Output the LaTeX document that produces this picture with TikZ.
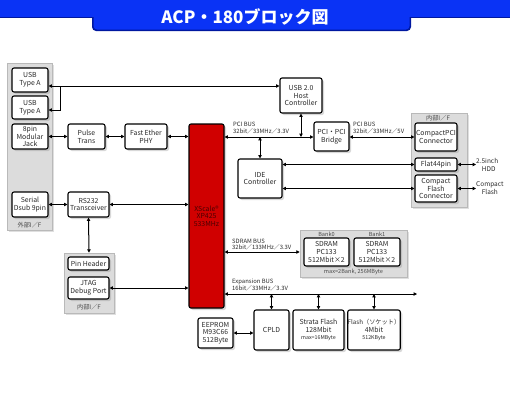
\documentclass[tikz,border=0pt]{standalone}
\usepackage{fontspec}
\setmainfont{Noto Sans CJK JP}
\usetikzlibrary{arrows.meta,shadows}
\definecolor{tblue}{HTML}{0A33F5}
\definecolor{tdark}{HTML}{0018A0}
\definecolor{txt}{HTML}{2A2A2A}
\definecolor{panelgray}{HTML}{DCDCDC}
\definecolor{xred}{HTML}{D00000}
\definecolor{xtxt}{HTML}{4A0000}
\begin{document}
\begin{tikzpicture}[x=1pt,y=-1pt,
  sz/.style 2 args={minimum width=#1pt, minimum height=#2pt},
  box/.style={draw=black, line width=1.1pt, rounded corners=2pt, fill=white, align=center,
    inner sep=0pt, text=txt, font=\fontsize{6.9}{7.7}\selectfont,
    drop shadow={opacity=0.3, shadow xshift=2pt, shadow yshift=-2pt}},
  panel/.style={draw=gray!55, fill=panelgray, line width=0.6pt, inner sep=0pt,
    drop shadow={opacity=0.25, shadow xshift=2pt, shadow yshift=-2pt}},
  arr/.style={{Triangle[width=3.4pt,length=3.4pt]}-{Triangle[width=3.4pt,length=3.4pt]}, line width=1pt},
  buslbl/.style={font=\fontsize{5.9}{6.3}\selectfont, anchor=west, inner sep=0pt, text=txt},
  plbl/.style={font=\fontsize{6.2}{6.8}\selectfont, inner sep=0pt, text=txt!85},
  outlbl/.style={font=\fontsize{6.5}{7.3}\selectfont, inner sep=0pt, text=txt, align=center},
  ]
\useasboundingbox (0,0) rectangle (510,400);
\fill[white] (0,0) rectangle (510,400);
% title bar
\fill[tdark] (0,0) rectangle (510,18);
\fill[tdark, rounded corners=4pt] (92,8) -- (92,31) -- (411,31) -- (411,8) -- cycle;
\fill[tblue] (0,0) rectangle (510,16.5);
\fill[tblue, rounded corners=3.5pt] (93.5,8) -- (93.5,29.5) -- (409.5,29.5) -- (409.5,8) -- cycle;
\node[text=white, font=\fontsize{17}{17}\selectfont\bfseries, inner sep=0pt] (title) at (245,17) {ACP・180ブロック図};

% panels
\node[panel, sz={45}{167}] (ext) at (29.5,146.5) {};
\node[panel, sz={50}{60}] (intL) at (89,283) {};
\node[panel, sz={56}{94}] (intR) at (439,160) {};
\node[panel, sz={107}{47}] (sdp) at (353.5,253.5) {};
\node[plbl] (extlbl) at (29.5,225) {外部I／F};
\node[plbl] (intLlbl) at (89,307.5) {内部I／F};
\node[plbl] (intRlbl) at (438,118) {内部I／F};
\node[plbl, font=\fontsize{5.6}{6}\selectfont] (bank0) at (326.5,234) {Bank0};
\node[plbl, font=\fontsize{5.6}{6}\selectfont] (bank1) at (377,234) {Bank1};
\node[plbl, font=\fontsize{5.6}{6}\selectfont] (sdmax) at (353.5,272) {max=2Bank, 256MByte};

% boxes
\node[box, sz={36}{24}] (usbA1) at (30,80) {USB\\Type A};
\node[box, sz={36}{23}] (usbA2) at (30,107.5) {USB\\Type A};
\node[box, sz={36}{25}] (jack) at (30,136.5) {8pin\\Modular\\Jack};
\node[box, sz={36}{25}] (serial) at (30,204.5) {Serial\\Dsub 9pin};
\node[box, sz={37}{25}] (pulse) at (86.5,136.5) {Pulse\\Trans};
\node[box, sz={42}{25}] (phy) at (146,136.5) {Fast Ether\\PHY};
\node[box, sz={41}{25}] (rs232) at (88.5,204.5) {RS232\\Transceiver};
\node[box, sz={41}{13}] (pinh) at (88.5,263.5) {Pin Header};
\node[box, sz={41}{22}] (jtag) at (88.5,288) {JTAG\\Debug Port};
\node[box, sz={35}{184}, fill=xred, text=xtxt] (xscale) at (206.5,216) {XScale®\\XP425\\533MHz};
\node[box, sz={35}{30}] (eeprom) at (215.5,333) {EEPROM\\M93C66\\512Byte};
\node[box, sz={35}{40}] (cpld) at (271.5,330) {CPLD};
\node[box, sz={51}{40}] (strata) at (318.5,330) {Strata Flash\\128Mbit\\{\fontsize{5.3}{6.3}\selectfont max=16MByte}};
\node[box, sz={52}{40}] (fsock) at (374,330) {{\fontsize{6.2}{7.7}\selectfont Flash（ソケット）}\\4Mbit\\{\fontsize{5.3}{6.3}\selectfont 512KByte}};
\node[box, sz={45}{28}] (sd0) at (326.5,252) {SDRAM\\PC133\\512Mbit×2};
\node[box, sz={46}{28}] (sd1) at (377,252) {SDRAM\\PC133\\512Mbit×2};
\node[box, sz={42}{35}] (usbh) at (301,95.5) {USB 2.0\\Host\\Controller};
\node[box, sz={35}{29}] (bridge) at (331.5,136.5) {PCI・PCI\\Bridge};
\node[box, sz={44}{39}] (ide) at (260,178.5) {IDE\\Controller};
\node[box, sz={42}{28}] (cpci) at (436,137) {CompactPCI\\Connector};
\node[box, sz={42}{13}] (flat) at (436,164.5) {Flat44pin};
\node[box, sz={42}{27}] (cfc) at (436,188.5) {Compact\\Flash\\Connector};
\node[outlbl, anchor=west] (hdd) at (476,165) {2.5inch\\\ \ HDD};
\node[outlbl, anchor=west] (cfl) at (476,188) {Compact\\Flash};

% bus labels
\node[buslbl] (pcil1) at (233,124) {PCI BUS};
\node[buslbl] (pcil2) at (233,131) {32bit／33MHz／3.3V};
\node[buslbl] (pcir1) at (353,124) {PCI BUS};
\node[buslbl] (pcir2) at (353,131) {32bit／33MHz／5V};
\node[buslbl] (sdl1) at (232,241) {SDRAM BUS};
\node[buslbl] (sdl2) at (232,247.5) {32bit／133MHz／3.3V};
\node[buslbl] (exl1) at (232,282) {Expansion BUS};
\node[buslbl] (exl2) at (232,288.5) {16bit／33MHz／3.3V};

% coordinates
\coordinate (usbrow) at (0,86);
\coordinate (usbj) at (60,86);
\coordinate (usbj2) at (60,110);
\coordinate (pcirow) at (0,137);
\coordinate (exrow) at (0,294);
\coordinate (exend) at (417,294);

% connectors
\draw[arr] (usbA1.east |- usbrow) -- (usbh.west |- usbrow);
\draw[line width=1pt, -{Triangle[width=3.4pt,length=3.4pt]}] (usbj) -- (usbj2) -- (usbA2.east |- usbj2);
\draw[arr] (jack.east) -- (pulse.west);
\draw[arr] (pulse.east) -- (phy.west);
\draw[arr] (phy.east) -- (xscale.west |- phy.east);
\draw[arr] (serial.east) -- (rs232.west);
\draw[arr] (rs232.east) -- (xscale.west |- rs232.east);
\draw[arr] (rs232.south) -- (intL.north);
\draw[arr] (jtag.east) -- (xscale.west |- jtag.east);
\draw[arr] (xscale.east |- pcirow) -- (bridge.west |- pcirow);
\draw[arr] (usbh.south) -- (usbh.south |- pcirow);
\draw[arr] (ide.north |- pcirow) -- (ide.north);
\draw[arr] (bridge.east |- pcirow) -- (cpci.west |- pcirow);
\draw[arr] (ide.east |- flat) -- (flat.west);
\draw[arr] (ide.east |- cfc) -- (cfc.west);
\draw[arr] (flat.east) -- (hdd.west |- flat.east);
\draw[arr] (cfc.east) -- (cfl.west |- cfc.east);
\draw[arr] (xscale.east |- sd0) -- (sdp.west |- sd0);
\draw[arr] (xscale.east |- exrow) -- (exend);
\draw[arr] (cpld.north |- exrow) -- (cpld.north);
\draw[arr] (strata.north |- exrow) -- (strata.north);
\draw[arr] (fsock.north |- exrow) -- (fsock.north);
\draw[arr] (eeprom.east) -- (cpld.west |- eeprom.east);
\end{tikzpicture}
\end{document}
